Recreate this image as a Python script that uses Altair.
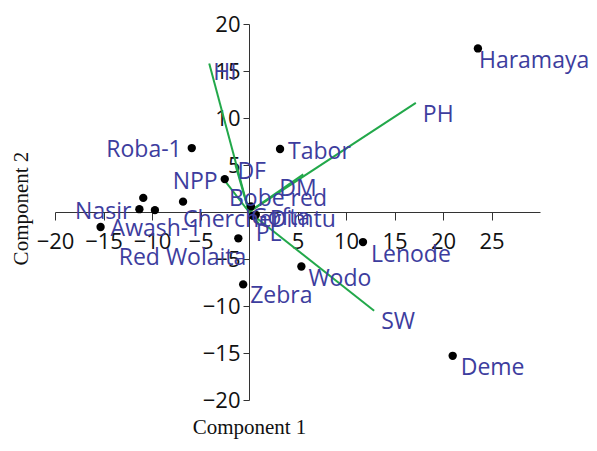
import altair as alt
import pandas as pd

# ---------------- data ----------------
genotypes = ["Haramaya", "Deme", "Lenode", "Wodo", "Zebra", "Tabor", "Roba-1",
             "Chercher", "Nasir", "Awash-1", "Red Wolaita", "Ibbado", "Mexican-142",
             "Awash Melka", "Bobe red", "Dimtu", "Gofta"]
pc1 = [23.6, 21.0, 11.75, 5.4, -0.6, 3.2, -5.9, -6.8, -11.3, -15.3, -1.1,
       -10.9, -9.7, -2.5, 0.2, 0.7, 0.4]
pc2 = [17.4, -15.3, -3.2, -5.8, -7.7, 6.7, 6.8, 1.1, 0.3, -1.6, -2.8,
       1.5, 0.2, 3.5, 0.6, -0.3, -0.4]

traits = ["HI", "PH", "SW", "NPP", "DF", "DM", "PL"]
load1 = [-4.1, 17.2, 12.9, -2.4, -1.4, 5.6, 1.0]
load2 = [15.8, 11.6, -10.5, 3.2, 5.0, 4.0, -1.2]

x_ticks = [-20, -15, -10, -5, 5, 10, 15, 20, 25]
y_ticks = [-20, -15, -10, -5, 5, 10, 15, 20]

# ---------------- styles ----------------
BLUE = "#3d3d9e"
GREEN = "#22a84a"
# label placement: (align, dx, dy) in pixels relative to the point / vector tip
label_style = {
    "Haramaya": ("left", 1, 13), "Deme": ("left", 8, 12), "Lenode": ("left", 8, 13),
    "Wodo": ("left", 7, 12), "Zebra": ("left", 7, 12), "Tabor": ("left", 8, 3),
    "Roba-1": ("right", -10, 2), "Chercher": ("left", 0, 18), "Nasir": ("right", -8, 3),
    "Awash-1": ("left", 10, 2), "Red Wolaita": ("right", 8, 20),
    "Bobe red": ("left", -22, -7), "Dimtu": ("left", 14, 5), "Gofta": ("left", -2, 2),
    "HI": ("left", 4, 10), "PH": ("left", 7, 12), "SW": ("left", 7, 11),
    "NPP": ("right", -8, 0), "DF": ("left", 2, 7), "DM": ("left", -24, 15),
    "PL": ("left", -3, 11),
}

W, H = 485, 376

pts = pd.DataFrame({"name": genotypes, "x": pc1, "y": pc2})
vec = pd.DataFrame({"name": traits, "x": load1, "y": load2})
vec["o"] = 0.0
labels = pd.concat([pts, vec[["name", "x", "y"]]], ignore_index=True)

xs = alt.Scale(domain=[-20, 30], nice=False, zero=False)
ys = alt.Scale(domain=[-20, 20], nice=False, zero=False)

x_axis = alt.Axis(values=x_ticks, offset=-H / 2, grid=False, title="Component 1",
                  titleFont="Liberation Serif", titleFontSize=21, titleFontWeight="normal",
                  titleColor="#111", titleX=W * 20 / 50, titleY=215, titleBaseline="middle",
                  titleAlign="center", labelFont="Open Sans", labelFontSize=22,
                  labelColor="#111", labelPadding=11, labelFlush=False, labelOverlap=False,
                  tickSize=8, tickColor="#333", domainColor="#333", tickWidth=1, domainWidth=1)
y_axis = alt.Axis(values=y_ticks, offset=-W * 20 / 50, grid=False, title="Component 2",
                  titleFont="Liberation Serif", titleFontSize=21, titleFontWeight="normal",
                  titleColor="#111", titleX=-228, titleY=184, titleAngle=270,
                  titleBaseline="middle", titleAlign="center",
                  labelFont="Open Sans", labelFontSize=22, labelColor="#111",
                  labelPadding=3, labelFlush=False, labelOverlap=False,
                  tickSize=6, tickColor="#333", domainColor="#333", tickWidth=1, domainWidth=1)

X = lambda f: alt.X(f, scale=xs, axis=x_axis)
Y = lambda f: alt.Y(f, scale=ys, axis=y_axis)

vectors = alt.Chart(vec).mark_rule(color=GREEN, strokeWidth=2).encode(
    x=X("o:Q"), y=Y("o:Q"), x2="x:Q", y2="y:Q")

points = alt.Chart(pts).mark_circle(color="black", opacity=1, size=70).encode(
    x=X("x:Q"), y=Y("y:Q"))

text_layers = []
for name, (align, dx, dy) in label_style.items():
    text_layers.append(
        alt.Chart(labels).transform_filter(alt.datum.name == name).mark_text(
            align=align, baseline="middle", dx=dx, dy=dy, font="Open Sans",
            fontSize=23, color=BLUE).encode(x=X("x:Q"), y=Y("y:Q"), text="name:N"))

chart = alt.layer(vectors, points, *text_layers).properties(
    width=W, height=H,
    background="white",
    autosize=alt.AutoSizeParams(type="none"),
    padding={"left": 47, "top": 16, "right": 49, "bottom": 39},
).configure_view(stroke=None)

chart.save("out.html", embed_options={"renderer": "svg", "actions": False})
